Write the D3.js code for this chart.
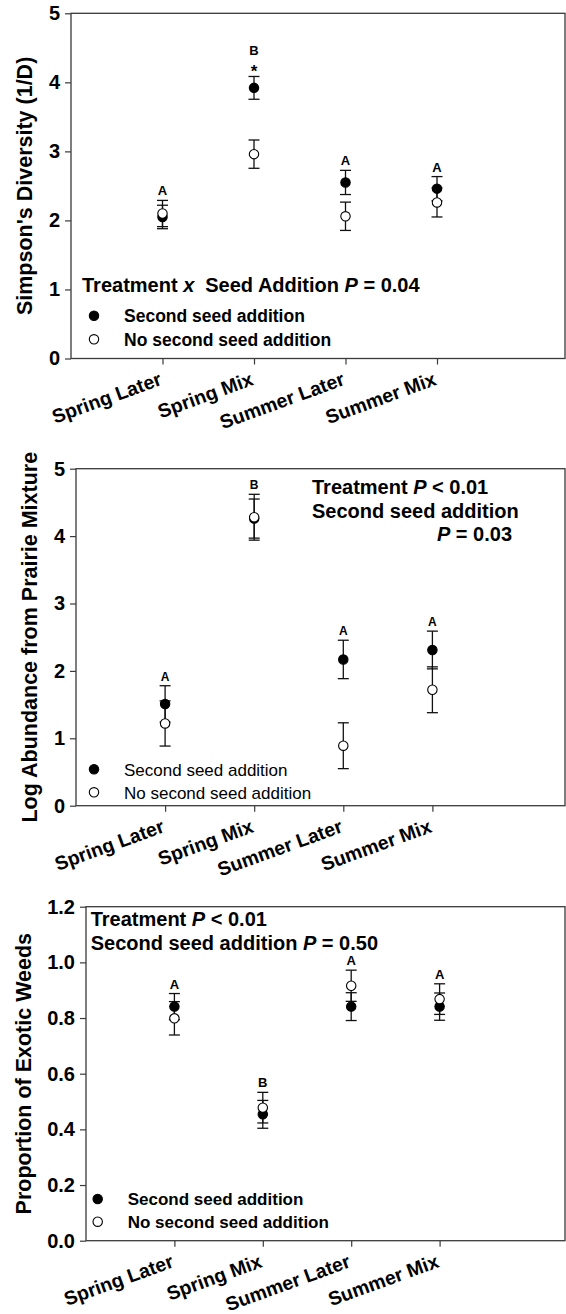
<!DOCTYPE html>
<html>
<head>
<meta charset="utf-8">
<script src="https://cdn.jsdelivr.net/npm/d3@7"></script>
<style>
  body { margin: 0; background: #fff; }
  svg { display: block; }
  svg text { font-family: "Liberation Sans", Arial, sans-serif; }
</style>
</head>
<body>
<svg width="566" height="1314"></svg>
<script>
// categories shared by all three panels
var categories = ["Spring Later", "Spring Mix", "Summer Later", "Summer Mix"];

// Panel 1 - Simpson's diversity
var simpsonSecond    = [2.05, 3.92, 2.55, 2.46];
var simpsonSecondErr = [0.17, 0.165, 0.175, 0.175];
var simpsonNone      = [2.10, 2.96, 2.06, 2.26];
var simpsonNoneErr   = [0.19, 0.205, 0.205, 0.21];
var simpsonLetters   = ["A", "B", "A", "A"];
var simpsonStars     = [false, true, false, false];
var simpsonTicks     = [0, 1, 2, 3, 4, 5];

// Panel 2 - log abundance from prairie mixture
var abundSecond    = [1.51, 4.26, 2.17, 2.31];
var abundSecondErr = [0.27, 0.29, 0.285, 0.28];
var abundNone      = [1.22, 4.28, 0.89, 1.72];
var abundNoneErr   = [0.335, 0.34, 0.34, 0.34];
var abundLetters   = ["A", "B", "A", "A"];
var abundTicks     = [0, 1, 2, 3, 4, 5];

// Panel 3 - proportion of exotic weeds
var weedSecond    = [0.841, 0.454, 0.841, 0.841];
var weedSecondErr = [0.047, 0.05, 0.05, 0.049];
var weedNone      = [0.799, 0.478, 0.916, 0.868];
var weedNoneErr   = [0.06, 0.055, 0.056, 0.055];
var weedLetters   = ["A", "B", "A", "A"];
var weedTicks     = [0, 0.2, 0.4, 0.6, 0.8, 1.0, 1.2];

var legendLabels = ["Second seed addition", "No second seed addition"];

var svg = d3.select("svg");
var RIGHT = 565;
var FONT = "'Liberation Sans', Arial, sans-serif";

function drawPanel(p) {
	var g = svg.append("g").attr("class", "panel");

	var x = d3.scaleLinear().domain([0, 5]).range([p.left, p.left + 5 * p.step]);
	var y = d3.scaleLinear().domain([p.ymin, p.ymax]).range([p.bottom, p.top]);

	// frame
	g.append("rect")
		.attr("x", p.left)
		.attr("y", p.top)
		.attr("width", RIGHT - p.left)
		.attr("height", p.bottom - p.top)
		.attr("fill", "none")
		.attr("stroke", "#3a3a3a")
		.attr("stroke-width", 1.3);

	// y axis
	var yAxis = g.append("g")
		.attr("transform", "translate(" + p.left + ",0)")
		.call(d3.axisLeft(y).tickValues(p.ticks).tickFormat(p.fmt).tickSize(6).tickSizeOuter(0).tickPadding(5));
	yAxis.attr("font-family", null).attr("font-size", null);
	yAxis.select(".domain").remove();
	yAxis.selectAll("line").attr("stroke", "#3a3a3a").attr("stroke-width", 1.2);
	yAxis.selectAll("text")
		.style("font-family", FONT)
		.style("font-size", "20px")
		.style("font-weight", "bold")
		.attr("fill", "#000");

	// x axis
	var xAxis = g.append("g")
		.attr("transform", "translate(0," + p.bottom + ")")
		.call(d3.axisBottom(x).tickValues([1, 2, 3, 4]).tickFormat(function(d) { return categories[d - 1]; }).tickSize(6).tickSizeOuter(0));
	xAxis.attr("font-family", null).attr("font-size", null);
	xAxis.select(".domain").remove();
	xAxis.selectAll("line").attr("stroke", "#3a3a3a").attr("stroke-width", 1.2);
	xAxis.selectAll("text")
		.attr("y", 0)
		.attr("dy", 0)
		.attr("text-anchor", "end")
		.attr("transform", "translate(0,26) rotate(-20)")
		.style("font-family", FONT)
		.style("font-size", "19.5px")
		.style("font-weight", "bold")
		.attr("fill", "#000");

	// y title
	g.append("text")
		.attr("transform", "translate(" + p.titleX + "," + ((p.top + p.bottom) / 2) + ") rotate(-90)")
		.attr("text-anchor", "middle")
		.style("font-size", "21.5px")
		.style("font-weight", "bold")
		.text(p.title);

	// error bars + points, filled series first, open on top
	var series = [
		{ vals: p.second, errs: p.secondErr, fill: "#000" },
		{ vals: p.none, errs: p.noneErr, fill: "#fff" }
	];
	series.forEach(function(s) {
		var rows = s.vals.map(function(v, i) { return { i: i + 1, v: v, e: s.errs[i] }; });
		var eb = g.append("g").selectAll("g").data(rows).enter().append("g")
			.attr("stroke", "#111")
			.attr("stroke-width", 1.3);
		eb.append("line")
			.attr("x1", function(d) { return x(d.i); })
			.attr("x2", function(d) { return x(d.i); })
			.attr("y1", function(d) { return y(d.v + d.e); })
			.attr("y2", function(d) { return y(d.v - d.e); });
		eb.append("line")
			.attr("x1", function(d) { return x(d.i) - 5.5; })
			.attr("x2", function(d) { return x(d.i) + 5.5; })
			.attr("y1", function(d) { return y(d.v + d.e); })
			.attr("y2", function(d) { return y(d.v + d.e); });
		eb.append("line")
			.attr("x1", function(d) { return x(d.i) - 5.5; })
			.attr("x2", function(d) { return x(d.i) + 5.5; })
			.attr("y1", function(d) { return y(d.v - d.e); })
			.attr("y2", function(d) { return y(d.v - d.e); });
	});
	series.forEach(function(s) {
		g.append("g").selectAll("circle")
			.data(s.vals).enter().append("circle")
			.attr("cx", function(d, i) { return x(i + 1); })
			.attr("cy", function(d) { return y(d); })
			.attr("r", 4.7)
			.attr("fill", s.fill)
			.attr("stroke", "#000")
			.attr("stroke-width", 1.1);
	});

	// letters above the highest cap
	p.letters.forEach(function(l, i) {
		var topv = Math.max(p.second[i] + p.secondErr[i], p.none[i] + p.noneErr[i]);
		var yy = y(topv);
		var star = p.stars && p.stars[i];
		if (star) {
			g.append("text")
				.attr("x", x(i + 1))
				.attr("y", yy + 1)
				.attr("text-anchor", "middle")
				.style("font-size", "17px")
				.style("font-weight", "bold")
				.text("*");
		}
		g.append("text")
			.attr("x", x(i + 1))
			.attr("y", star ? yy - 21 : yy - 5)
			.attr("text-anchor", "middle")
			.style("font-size", p.letterSize)
			.style("font-weight", "bold")
			.text(l);
	});

	// legend
	var lg = g.append("g");
	legendLabels.forEach(function(lab, k) {
		var cy = p.legendY + k * p.legendGap;
		lg.append("circle")
			.attr("cx", p.legendX)
			.attr("cy", cy)
			.attr("r", 4.7)
			.attr("fill", k == 0 ? "#000" : "#fff")
			.attr("stroke", "#000")
			.attr("stroke-width", 1.1);
		lg.append("text")
			.attr("x", p.legendTextX)
			.attr("y", cy + 6.3)
			.style("font-size", p.legendSize)
			.style("font-weight", p.legendWeight)
			.text(lab);
	});

	// statistics note
	p.notes.forEach(function(n) {
		var t = g.append("text")
			.attr("x", n.x)
			.attr("y", n.y)
			.attr("text-anchor", n.anchor || "start")
			.style("font-size", "20px")
			.style("font-weight", "bold");
		n.parts.forEach(function(pt) {
			t.append("tspan")
				.attr("dx", pt[2] || 0)
				.style("font-style", pt[1] ? "italic" : "normal")
				.text(pt[0]);
		});
	});
}

drawPanel({
	left: 71, step: 91.5, top: 13.3, bottom: 358.5, ymin: 0, ymax: 5,
	ticks: simpsonTicks, fmt: d3.format("d"),
	title: "Simpson's Diversity (1/D)", titleX: 32,
	second: simpsonSecond, secondErr: simpsonSecondErr,
	none: simpsonNone, noneErr: simpsonNoneErr,
	letters: simpsonLetters, stars: simpsonStars, letterSize: "13px",
	legendX: 94, legendTextX: 124, legendY: 315.7, legendGap: 23.6,
	legendSize: "17.5px", legendWeight: "bold",
	notes: [
		{ x: 82, y: 292, parts: [["Treatment "], ["x", true], ["Seed Addition ", false, 11], ["P", true], [" = 0.04"]] }
	]
});

drawPanel({
	left: 76, step: 89.1, top: 468.7, bottom: 805.7, ymin: 0, ymax: 5,
	ticks: abundTicks, fmt: d3.format("d"),
	title: "Log Abundance from Prairie Mixture", titleX: 37,
	second: abundSecond, secondErr: abundSecondErr,
	none: abundNone, noneErr: abundNoneErr,
	letters: abundLetters, letterSize: "12px",
	legendX: 94, legendTextX: 124, legendY: 769.3, legendGap: 23,
	legendSize: "17px", legendWeight: "normal",
	notes: [
		{ x: 312, y: 493.7, parts: [["Treatment "], ["P", true], [" < 0.01"]] },
		{ x: 312, y: 517.7, parts: [["Second seed addition"]] },
		{ x: 512, y: 541.3, anchor: "end", parts: [["P", true], [" = 0.03"]] }
	]
});

drawPanel({
	left: 86, step: 88.4, top: 906.7, bottom: 1240.7, ymin: 0, ymax: 1.2,
	ticks: weedTicks, fmt: d3.format(".1f"),
	title: "Proportion of Exotic Weeds", titleX: 31,
	second: weedSecond, secondErr: weedSecondErr,
	none: weedNone, noneErr: weedNoneErr,
	letters: weedLetters, letterSize: "13px",
	legendX: 97.7, legendTextX: 127.7, legendY: 1199, legendGap: 22.7,
	legendSize: "17px", legendWeight: "bold",
	notes: [
		{ x: 90.7, y: 926.3, parts: [["Treatment "], ["P", true], [" < 0.01"]] },
		{ x: 90.7, y: 949.7, parts: [["Second seed addition "], ["P", true], [" = 0.50"]] }
	]
});
</script>
</body>
</html>
